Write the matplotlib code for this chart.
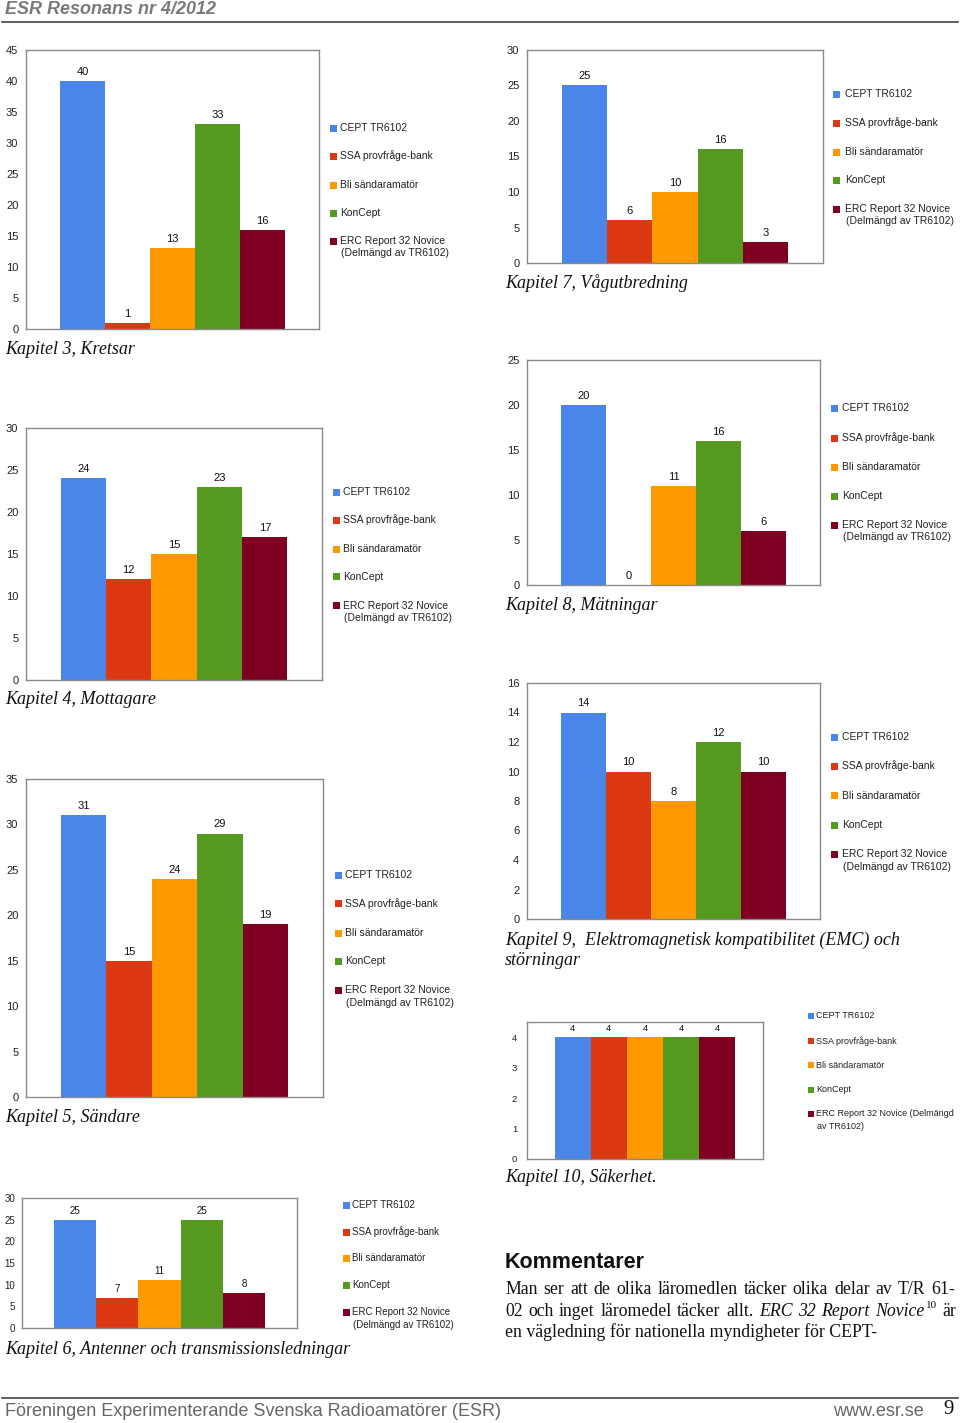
import matplotlib
matplotlib.use("Agg")
import matplotlib.pyplot as plt
from matplotlib.patches import Rectangle
from matplotlib.lines import Line2D

W, H = 960, 1423
series = ["CEPT TR6102", "SSA provfråge-bank", "Bli sändaramatör", "KonCept",
          "ERC Report 32 Novice\n(Delmängd av TR6102)"]
colors = ["#4A86E8", "#DC3912", "#FF9900", "#55991F", "#7E0021"]

k3 = [40, 1, 13, 33, 16]
k4 = [24, 12, 15, 23, 17]
k5 = [31, 15, 24, 29, 19]
k6 = [25, 7, 11, 25, 8]
k7 = [25, 6, 10, 16, 3]
k8 = [20, 0, 11, 16, 6]
k9 = [14, 10, 8, 12, 10]
k10 = [4, 4, 4, 4, 4]

captions = {
    "k3": "Kapitel 3, Kretsar",
    "k4": "Kapitel 4, Mottagare",
    "k5": "Kapitel 5, Sändare",
    "k6": "Kapitel 6, Antenner och transmissionsledningar",
    "k7": "Kapitel 7, Vågutbredning",
    "k8": "Kapitel 8, Mätningar",
    "k9": "Kapitel 9,  Elektromagnetisk kompatibilitet (EMC) och\nstörningar",
    "k10": "Kapitel 10, Säkerhet.",
}

plt.rcParams['font.family'] = ['Liberation Sans', 'DejaVu Sans']
fig = plt.figure(figsize=(W / 100, H / 100), dpi=100)

SANS = ['Liberation Sans', 'DejaVu Sans']
SERIF = ['Liberation Serif', 'DejaVu Serif']


def fx(x):
    return x / W


def fy(y):
    return 1 - y / H


def chart(vals, box, ymax, ystep, leg, caption, cap_xy, fs=8, legfs=7.5,
          wrap=None, sq=7, pad=5.5):
    l, t, r, b = box
    ax = fig.add_axes([fx(l), fy(b), fx(r - l), (b - t) / H])
    x = list(range(len(vals)))
    bars = ax.bar(x, vals, width=1.0, color=colors, linewidth=0)
    m = 0.76
    ax.set_xlim(-0.5 - m, len(vals) - 0.5 + m)
    ax.set_ylim(0, ymax)
    ticks = list(range(0, int(ymax) + 1, ystep))
    ax.set_yticks(ticks)
    ax.set_yticklabels([str(v) for v in ticks], fontsize=fs, color="#222222")
    ax.set_xticks([])
    ax.tick_params(axis='y', length=0, pad=pad)
    for s in ax.spines.values():
        s.set_color("#8a8a8a")
        s.set_linewidth(1.0)
    ax.bar_label(bars, labels=[str(v) for v in vals], padding=3, fontsize=fs,
                 color="#111111")
    # legend
    lx, tx, ys = leg
    labels = wrap if wrap else series
    for i, (lab, yc) in enumerate(zip(labels, ys)):
        fig.patches.append(Rectangle((fx(lx), fy(yc + sq / 2)), sq / W, sq / H,
                                     transform=fig.transFigure,
                                     facecolor=colors[i], edgecolor='none'))
        lines = lab.split("\n")
        for j, ln in enumerate(lines):
            xx = tx if j == 0 else tx + 1
            fig.text(fx(xx), fy(yc + j * 12.5), ln, fontsize=legfs, va='center',
                     ha='left', color="#222222", family=SANS)
    cx, cy = cap_xy
    fig.text(fx(cx), fy(cy + 2), caption, fontsize=13, style='italic',
             family=SERIF, va='center', ha='left', color="#111111",
             linespacing=1.22)
    return ax


chart(k3, (26, 50, 319, 329), 45, 5,
      (330, 340, [128, 156, 185, 213, 241]), captions["k3"], (5, 348))
chart(k7, (527, 50, 823, 263), 30, 5,
      (833, 845, [94, 123, 152, 180, 209]), captions["k7"], (505, 281))
chart(k4, (26, 428, 322, 680), 30, 5,
      (333, 343, [492, 520, 549, 577, 606]), captions["k4"], (5, 698))
chart(k8, (527, 360, 820, 585), 25, 5,
      (831, 842, [408, 438, 467, 496, 525]), captions["k8"], (505, 604))
chart(k9, (527, 683, 820, 919), 16, 2,
      (831, 842, [737, 766, 796, 825, 854]), captions["k9"], (505, 948))
chart(k5, (26, 779, 323, 1097), 35, 5,
      (335, 345, [875, 904, 933, 961, 990]), captions["k5"], (5, 1116))
wrap10 = series[:4] + ["ERC Report 32 Novice (Delmängd\nav TR6102)"]
chart(k10, (527, 1022, 763, 1159), 4.5, 1,
      (808, 816, [1016, 1041, 1065, 1090, 1114]), captions["k10"], (505, 1176),
      fs=6.8, legfs=6.5, wrap=wrap10, sq=6, pad=7)
chart(k6, (22, 1198, 297, 1328), 30, 5,
      (343, 352, [1205, 1232, 1258, 1285, 1312]), captions["k6"], (5, 1347),
      fs=7, legfs=7, pad=5)

# header and footer
fig.text(fx(5), fy(10), "ESR Resonans nr 4/2012", fontsize=13, weight='bold',
         style='italic', color="#7a7a7a", va='center', ha='left', family=SANS)
fig.add_artist(Line2D([fx(2), fx(958)], [fy(22), fy(22)], color="#444444", lw=1.2,
                      transform=fig.transFigure))
fig.add_artist(Line2D([fx(2), fx(958)], [fy(1398), fy(1398)], color="#444444", lw=1.2,
                      transform=fig.transFigure))
fig.text(fx(5), fy(1411), "Föreningen Experimenterande Svenska Radioamatörer (ESR)",
         fontsize=13, color="#666666", va='center', ha='left', family=SANS)
fig.text(fx(924), fy(1411), "www.esr.se", fontsize=13, color="#666666",
         va='center', ha='right', family=SANS)
fig.text(fx(954), fy(1410), "9", fontsize=15, color="#111111", va='center',
         ha='right', family=SERIF)

# Kommentarer
BFS = 12.8
fig.text(fx(505), fy(1262), "Kommentarer", fontsize=15.5, weight='bold',
         color="#111111", va='center', ha='left', family=SANS)

renderer = fig.canvas.get_renderer()


def justified(tokens, x0, x1, y):
    # tokens: (text, style) where style in 'n', 'i', 'sup'; 'sup' attaches to previous
    arts, widths, attach = [], [], []
    for txt, st in tokens:
        if st == 'sup':
            a = fig.text(0, fy(y - 6), txt, fontsize=8, color="#111111",
                         va='center', ha='left', family=SERIF)
        else:
            a = fig.text(0, fy(y), txt, fontsize=BFS, color="#111111",
                         va='center', ha='left', family=SERIF,
                         style='italic' if st == 'i' else 'normal')
        arts.append(a)
        widths.append(a.get_window_extent(renderer).width)
        attach.append(st == 'sup')
    ngaps = sum(1 for k in range(1, len(tokens)) if not attach[k])
    gap = (x1 - x0 - sum(widths)) / ngaps
    x = x0
    for k, (a, w) in enumerate(zip(arts, widths)):
        if k > 0:
            x += (1 if attach[k] else gap)
        a.set_x(fx(x))
        x += w


line1 = "Man ser att de olika läromedlen täcker olika delar av T/R 61-".split()
justified([(w, 'n') for w in line1], 505, 955, 1290)
line2 = ([(w, 'n') for w in "02 och inget läromedel täcker allt.".split()] +
         [(w, 'i') for w in "ERC 32 Report Novice".split()] +
         [("10", 'sup'), ("är", 'n')])
justified(line2, 505, 955, 1311)
fig.text(fx(505), fy(1332), "en vägledning för nationella myndigheter för CEPT-",
         fontsize=BFS, color="#111111", va='center', ha='left', family=SERIF)

fig.savefig("out.png", dpi=100)
